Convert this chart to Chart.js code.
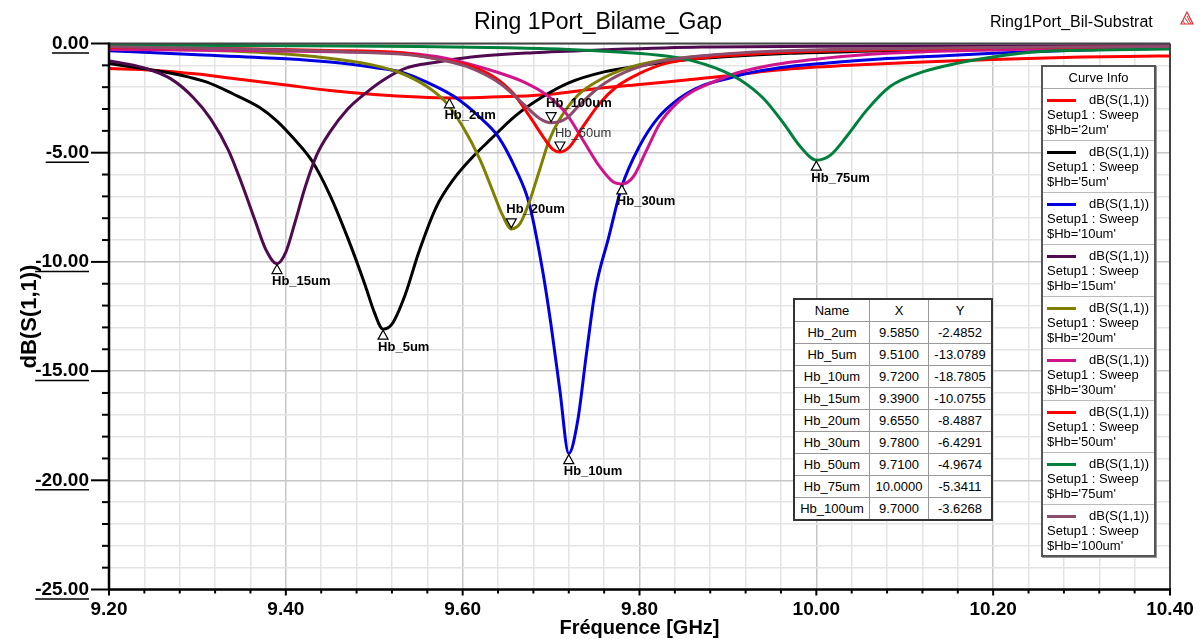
<!DOCTYPE html>
<html><head><meta charset="utf-8">
<script src="https://cdn.jsdelivr.net/npm/chart.js@4.4.0/dist/chart.umd.min.js"></script>
<style>
html,body{margin:0;padding:0;background:#fff;}
#wrap{position:relative;width:1203px;height:639px;overflow:hidden;font-family:"Liberation Sans",Arial,sans-serif;color:#000;}
#c{position:absolute;left:0;top:0;}
#title{position:absolute;left:0;width:1196px;top:8px;text-align:center;font-size:23px;line-height:27px;}
#sub{position:absolute;left:990px;top:13px;font-size:16px;line-height:18px;}
#logo{position:absolute;left:1180px;top:11px;}
#legend{position:absolute;left:1041px;top:65px;width:115px;height:492px;box-sizing:border-box;border:2px solid #555;background:#fff;font-size:13px;box-shadow:1px 1px 0 #999;}
#legend .hd{height:21px;line-height:21px;text-align:center;border-bottom:1px solid #aaa;}
#legend .en{position:relative;height:51px;border-bottom:1px solid #bbb;box-sizing:content-box;}
#legend .en:last-child{border-bottom:none;}
#legend .ln{position:absolute;left:4px;top:10px;width:29px;height:3px;}
#legend .t1{position:absolute;right:5px;top:3px;line-height:16px;}
#legend .t2{position:absolute;left:4px;top:18px;line-height:16px;white-space:nowrap;}
#legend .t3{position:absolute;left:4px;top:33px;line-height:16px;white-space:nowrap;}
#tbl{position:absolute;left:793px;top:298px;border-collapse:collapse;background:#fff;font-size:13px;border:2px solid #333;}
#tbl td{border:1px solid #999;height:21px;padding:0;text-align:center;line-height:20px;}
</style></head>
<body>
<div id="wrap">
<canvas id="c" width="1203" height="639"></canvas>
<div id="title">Ring 1Port_Bilame_Gap</div>
<div id="sub">Ring1Port_Bil-Substrat</div>
<svg id="logo" width="14" height="14" viewBox="0 0 14 14"><polygon points="7,1 13,13 1,13" fill="none" stroke="#d33" stroke-width="1.2"/><line x1="5" y1="7" x2="9" y2="13" stroke="#d33"/><line x1="7" y1="5" x2="11" y2="13" stroke="#d33"/><line x1="3" y1="10" x2="5" y2="13" stroke="#d33"/></svg>
<div id="legend"></div>
<table id="tbl"></table>
</div>
<script>
// ---------------- DATA ----------------
const hbValues = ['2um','5um','10um','15um','20um','30um','50um','75um','100um'];

const freq2 = [9.20,9.25,9.30,9.35,9.40,9.45,9.50,9.55,9.585,9.62,9.66,9.70,9.75,9.80,9.85,9.90,9.95,10.00,10.05,10.10,10.15,10.20,10.25,10.30,10.35,10.40];
const db2   = [-1.14,-1.22,-1.40,-1.65,-1.90,-2.15,-2.33,-2.45,-2.49,-2.47,-2.42,-2.32,-2.07,-1.88,-1.68,-1.48,-1.24,-1.08,-0.97,-0.88,-0.80,-0.73,-0.67,-0.62,-0.59,-0.57];

const freq5 = [9.20,9.24,9.28,9.31,9.34,9.37,9.39,9.41,9.43,9.45,9.47,9.49,9.50,9.51,9.52,9.535,9.55,9.57,9.59,9.61,9.63,9.66,9.69,9.72,9.76,9.80,9.85,9.90,9.97,10.05,10.15,10.25,10.40];
const db5   = [-0.91,-1.16,-1.44,-1.76,-2.30,-2.92,-3.55,-4.40,-5.40,-6.95,-8.90,-11.1,-12.3,-13.08,-12.85,-11.5,-9.6,-7.5,-6.2,-5.25,-4.45,-3.30,-2.45,-1.80,-1.30,-1.02,-0.76,-0.60,-0.45,-0.36,-0.28,-0.22,-0.17];

const freq10 = [9.20,9.30,9.40,9.45,9.50,9.53,9.56,9.59,9.62,9.64,9.66,9.675,9.69,9.70,9.71,9.72,9.73,9.74,9.75,9.765,9.78,9.80,9.82,9.845,9.87,9.90,9.93,9.97,10.01,10.08,10.15,10.20,10.25,10.32,10.40];
const db10   = [-0.33,-0.52,-0.70,-0.85,-1.10,-1.30,-1.78,-2.42,-3.40,-4.25,-5.75,-7.30,-10.3,-12.9,-15.9,-18.78,-17.3,-14.2,-11.3,-8.9,-6.55,-4.70,-3.45,-2.52,-1.95,-1.60,-1.30,-1.05,-0.90,-0.69,-0.55,-0.45,-0.37,-0.28,-0.22];

const freq15 = [9.20,9.24,9.27,9.295,9.315,9.335,9.35,9.365,9.377,9.39,9.40,9.41,9.422,9.435,9.45,9.47,9.49,9.51,9.535,9.57,9.61,9.68,9.76,9.87,10.00,10.15,10.40];
const db15   = [-0.79,-1.12,-1.62,-2.46,-3.45,-4.88,-6.40,-8.08,-9.40,-10.08,-9.55,-8.24,-6.56,-5.10,-4.05,-3.00,-2.28,-1.68,-1.14,-0.86,-0.62,-0.42,-0.29,-0.16,-0.13,-0.11,-0.10];

const freq20 = [9.20,9.30,9.35,9.40,9.46,9.50,9.53,9.56,9.58,9.60,9.62,9.635,9.645,9.655,9.665,9.675,9.687,9.698,9.71,9.73,9.755,9.785,9.82,9.87,9.95,10.05,10.20,10.40];
const db20   = [-0.22,-0.30,-0.37,-0.48,-0.73,-1.00,-1.35,-1.98,-2.65,-3.80,-5.35,-6.86,-7.85,-8.49,-8.24,-7.30,-5.79,-4.42,-3.45,-2.38,-1.67,-1.14,-0.80,-0.58,-0.40,-0.30,-0.22,-0.17];

const freq30 = [9.20,9.35,9.45,9.53,9.57,9.605,9.64,9.67,9.695,9.717,9.736,9.755,9.77,9.78,9.793,9.808,9.823,9.842,9.86,9.88,9.91,9.95,10.01,10.08,10.16,10.25,10.40];
const db30   = [-0.27,-0.32,-0.38,-0.42,-0.60,-0.91,-1.33,-1.78,-2.36,-3.20,-4.42,-5.64,-6.33,-6.43,-6.10,-4.88,-3.66,-2.74,-2.20,-1.82,-1.35,-0.98,-0.67,-0.45,-0.33,-0.25,-0.18];

const freq50 = [9.20,9.35,9.45,9.53,9.567,9.605,9.635,9.657,9.676,9.691,9.702,9.71,9.721,9.736,9.755,9.774,9.80,9.83,9.87,9.93,10.00,10.10,10.20,10.40];
const db50   = [-0.18,-0.24,-0.32,-0.42,-0.68,-0.98,-1.52,-2.28,-3.35,-4.27,-4.85,-4.97,-4.73,-3.81,-2.74,-1.98,-1.37,-0.91,-0.66,-0.48,-0.36,-0.26,-0.20,-0.15];

const freq75 = [9.20,9.40,9.55,9.65,9.72,9.78,9.83,9.857,9.887,9.914,9.94,9.963,9.982,10.00,10.016,10.034,10.057,10.083,10.121,10.159,10.215,10.25,10.32,10.40];
const db75   = [-0.07,-0.10,-0.14,-0.20,-0.27,-0.40,-0.57,-0.76,-1.14,-1.67,-2.51,-3.66,-4.73,-5.34,-5.11,-4.27,-3.05,-1.98,-1.29,-0.91,-0.53,-0.38,-0.30,-0.25];

const freq100 = [9.20,9.35,9.45,9.529,9.567,9.605,9.642,9.668,9.687,9.70,9.717,9.732,9.755,9.785,9.823,9.868,9.95,10.05,10.20,10.40];
const db100   = [-0.15,-0.25,-0.36,-0.48,-0.68,-1.06,-1.82,-2.74,-3.43,-3.63,-3.43,-2.82,-1.98,-1.29,-0.83,-0.57,-0.35,-0.25,-0.18,-0.14];

const markerNames = ['Hb_2um','Hb_5um','Hb_10um','Hb_15um','Hb_20um','Hb_30um','Hb_50um','Hb_75um','Hb_100um'];
const markerX = [9.585, 9.51, 9.72, 9.39, 9.655, 9.78, 9.71, 10.0, 9.70];
const markerY = [-2.4852, -13.0789, -18.7805, -10.0755, -8.4887, -6.4291, -4.9674, -5.3411, -3.6268];

const xMin = 9.2, xMax = 10.4, xStep = 0.04;
const yMin = -25, yMax = 0;

// ---------------- STYLES ----------------
const colors = ['#FF0000','#000000','#0000E0','#500A50','#808000','#D0148C','#FF0000','#00803C','#8C4C6C'];
const downMarkers = ['Hb_20um','Hb_50um','Hb_100um'];
const lightLabels = ['Hb_50um'];
const FONT = '"Liberation Sans", Arial, sans-serif';

const seriesF = [freq2,freq5,freq10,freq15,freq20,freq30,freq50,freq75,freq100];
const seriesY = [db2,db5,db10,db15,db20,db30,db50,db75,db100];

const datasets = hbValues.map((hb,i)=>({
  label: "dB(S(1,1)) $Hb='"+hb+"'",
  data: seriesF[i].map((f,k)=>({x:f, y:seriesY[i][k]})),
  borderColor: colors[i],
  borderWidth: 3,
  pointRadius: 0,
  fill: false,
  cubicInterpolationMode: 'monotone',
  order: hbValues.length - i
}));

// legend HTML
const leg = document.getElementById('legend');
let lh = '<div class="hd">Curve Info</div>';
hbValues.forEach((hb,i)=>{
  lh += '<div class="en"><div class="ln" style="background:'+colors[i]+'"></div>'+
        '<div class="t1">dB(S(1,1))</div><div class="t2">Setup1 : Sweep</div>'+
        '<div class="t3">$Hb=\''+hb+'\'</div></div>';
});
leg.innerHTML = lh;

// table HTML
const tbl = document.getElementById('tbl');
let th = '<tr><td style="width:74px">Name</td><td style="width:58px">X</td><td style="width:62px">Y</td></tr>';
markerNames.forEach((n,i)=>{
  th += '<tr><td>'+n+'</td><td>'+markerX[i].toFixed(4)+'</td><td>'+markerY[i].toFixed(4)+'</td></tr>';
});
tbl.innerHTML = th;

const isMajorX = v => Math.abs(v*5 - Math.round(v*5)) < 1e-6;
const isMajorY = v => Math.abs(v/5 - Math.round(v/5)) < 1e-6;

const decoPlugin = {
  id: 'deco',
  afterDatasetsDraw(chart){
    const {ctx, scales:{x,y}} = chart;
    ctx.save();
    markerNames.forEach((n,i)=>{
      const px = x.getPixelForValue(markerX[i]);
      const py = y.getPixelForValue(markerY[i]);
      const down = downMarkers.includes(n);
      ctx.beginPath();
      if (down){ ctx.moveTo(px,py-1); ctx.lineTo(px-5,py-10); ctx.lineTo(px+5,py-10); }
      else { ctx.moveTo(px,py+1); ctx.lineTo(px-5,py+10); ctx.lineTo(px+5,py+10); }
      ctx.closePath();
      ctx.fillStyle='#fff'; ctx.fill();
      ctx.strokeStyle='#000'; ctx.lineWidth=1.2; ctx.stroke();
      ctx.fillStyle = lightLabels.includes(n) ? '#333' : '#000';
      ctx.font = (lightLabels.includes(n)?'':'bold ')+'13px '+FONT;
      ctx.textAlign='left'; ctx.textBaseline='middle';
      ctx.fillText(n, px-5, down ? py-19 : py+18);
    });
    ctx.restore();
  },
  afterDraw(chart){
    const {ctx, chartArea:a, scales:{x,y}} = chart;
    ctx.save();
    const line=(x1,y1,x2,y2)=>{ctx.beginPath();ctx.moveTo(x1,y1);ctx.lineTo(x2,y2);ctx.stroke();};
    ctx.strokeStyle='#444'; ctx.lineWidth=2;
    line(a.left,a.top,a.right,a.top); line(a.right,a.top,a.right,a.bottom);
    ctx.strokeStyle='#000'; ctx.lineWidth=2.5;
    line(a.left,a.top-1,a.left,a.bottom+1); line(a.left,a.bottom,a.right+1,a.bottom);
    ctx.lineWidth=2;
    y.ticks.forEach(t=>{
      const py=y.getPixelForValue(t.value);
      const len=isMajorY(t.value)?18:7;
      line(a.left-len,py,a.left,py);
    });
    x.ticks.forEach(t=>{
      const px=x.getPixelForValue(t.value);
      const len=isMajorX(t.value)?6:4;
      line(px,a.bottom,px,a.bottom+len);
    });
    // underline y tick labels
    ctx.font='bold 19px '+FONT;
    ctx.lineWidth=1.5;
    const xr = a.left - 20;
    y.ticks.forEach(t=>{
      if(!isMajorY(t.value)) return;
      const s = (Math.abs(t.value)<1e-9?0:t.value).toFixed(2);
      const w = ctx.measureText(s).width;
      const py=y.getPixelForValue(t.value)+9.5;
      line(xr-w,py,xr,py);
    });
    ctx.restore();
  }
};

new Chart(document.getElementById('c'), {
  type: 'line',
  data: { datasets },
  options: {
    responsive: false,
    animation: false,
    devicePixelRatio: 1,
    layout: { padding: { left: 0, right: 33, top: 43.5, bottom: 0 } },
    plugins: { legend: { display: false }, tooltip: { enabled: false }, title: { display: false } },
    scales: {
      x: {
        type: 'linear', min: xMin, max: xMax,
        afterBuildTicks: s => {
          const n = Math.round((xMax-xMin)/xStep);
          const arr=[]; for(let i=0;i<=n;i++) arr.push({value: +(xMin + i*xStep).toFixed(4)});
          s.ticks = arr;
        },
        afterFit: s => { s.height = 49.5; },
        grid: { drawTicks: false, color: c => (c.tick && isMajorX(c.tick.value)) ? '#C6C6C6' : '#E4E4E4', lineWidth: 1.5 },
        border: { display: false },
        ticks: { autoSkip: false, maxRotation: 0, padding: 9, color: '#000',
          font: { family: FONT, size: 19, weight: 'bold' },
          callback: v => isMajorX(v) ? v.toFixed(2) : '' },
        title: { display: true, text: 'Fréquence [GHz]', color: '#000',
          font: { family: FONT, size: 20, weight: 'bold', lineHeight: 1 }, padding: { top: 0, bottom: 1 } }
      },
      y: {
        type: 'linear', min: yMin, max: yMax,
        afterBuildTicks: s => {
          const arr=[]; for(let v=yMin; v<=yMax; v++) arr.push({value: v});
          s.ticks = arr;
        },
        afterFit: s => { s.width = 109; },
        grid: { drawTicks: false, color: c => (c.tick && isMajorY(c.tick.value)) ? '#C6C6C6' : '#E4E4E4', lineWidth: 1.5 },
        border: { display: false },
        ticks: { autoSkip: false, padding: 20, color: '#000',
          font: { family: FONT, size: 19, weight: 'bold' },
          callback: v => isMajorY(v) ? (Math.abs(v)<1e-9?0:v).toFixed(2) : '' },
        title: { display: true, text: 'dB(S(1,1))', color: '#000',
          font: { family: FONT, size: 22, weight: 'bold', lineHeight: 1 }, padding: { top: 19, bottom: 0 } }
      }
    }
  },
  plugins: [decoPlugin]
});
</script>
</body></html>
